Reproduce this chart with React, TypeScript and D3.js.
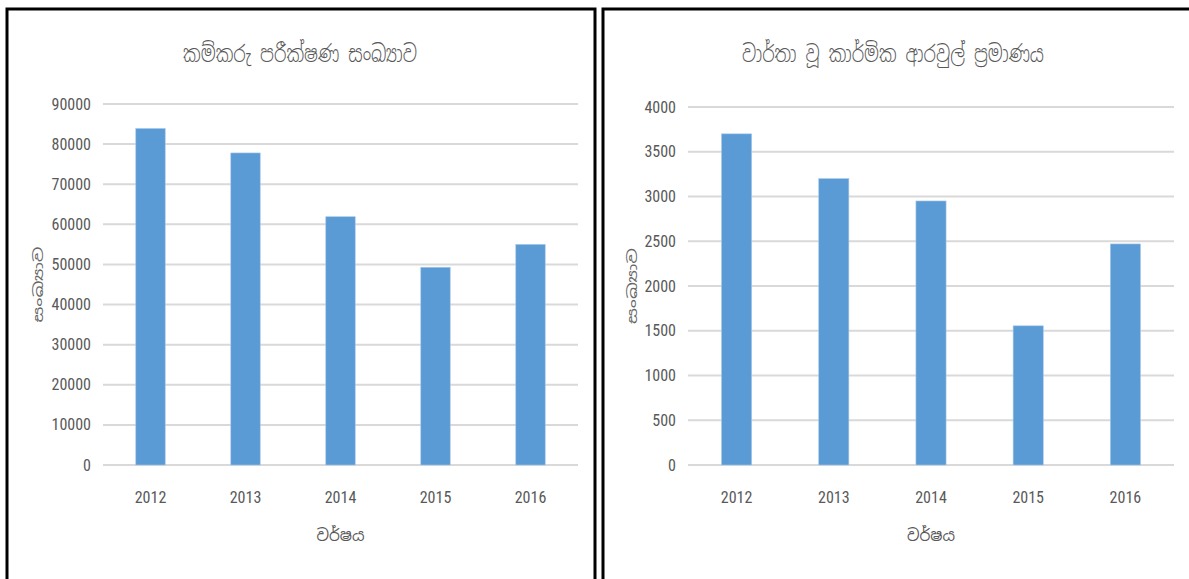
import React from "react";
import * as d3 from "d3";

// two Excel-style column charts, side by side
const years = ["2012", "2013", "2014", "2015", "2016"];
const inspections = [83900, 77800, 61900, 49300, 55000];
const disputes = [3700, 3200, 2950, 1555, 2470];
const inspectionTicks = [0, 10000, 20000, 30000, 40000, 50000, 60000, 70000, 80000, 90000];
const disputeTicks = [0, 500, 1000, 1500, 2000, 2500, 3000, 3500, 4000];

const titleLeft = "කම්කරු පරීක්ෂණ සංඛ්‍යාව";
const titleRight = "වාර්තා වූ කාර්මික ආරවුල් ප්‍රමාණය";
const xTitle = "වර්ෂය";
const yTitle = "සංඛ්‍යාව";

const numFont = "'Liberation Sans Narrow', 'Arial Narrow', 'Roboto Condensed', 'Liberation Sans', sans-serif";
const sinFont = "'Noto Sans Sinhala', 'Iskoola Pota', 'Noto Sans', sans-serif";
const textGrey = "#595959";
const barBlue = "#5b9bd5";

type PanelProps = {
  values: number[];
  ticks: number[];
  title: string;
  titleWidth: number;
  plotLeft: number;
  plotRight: number;
  plotTop: number;
  plotBottom: number;
  titleX: number;
  yTitleX: number;
};

const Panel: React.FC<PanelProps> = ({ values, ticks, title, titleWidth, plotLeft, plotRight, plotTop, plotBottom, titleX, yTitleX }) => {
  const x = d3.scaleBand<string>().domain(years).range([plotLeft, plotRight]).paddingInner(0.69).paddingOuter(0.345);
  const y = d3.scaleLinear().domain([0, d3.max(ticks) as number]).range([plotBottom, plotTop]);
  const midY = (plotTop + plotBottom) / 2;
  const midX = (plotLeft + plotRight) / 2;

  return (
    <g>
      <text x={titleX} y={56} textAnchor="middle" dominantBaseline="middle" fontSize={23} fill={textGrey}
        fontWeight={300} textLength={titleWidth} lengthAdjust="spacingAndGlyphs" fontFamily={sinFont}>{title}</text>

      {ticks.map((t) => (
        <g key={t}>
          <line x1={plotLeft} x2={plotRight} y1={y(t)} y2={y(t)} stroke="#d9d9d9" strokeWidth={2} />
          <text x={plotLeft - 12} y={y(t)} dy="0.35em" textAnchor="end" fontSize={16} fill={textGrey} fontFamily={numFont}>{t}</text>
        </g>
      ))}

      {values.map((v, i) => (
        <rect key={years[i]} x={x(years[i])} y={y(v)} width={x.bandwidth()} height={y(0) - y(v)}
          fill={barBlue} stroke="#a9c8ea" strokeWidth={0.6} />
      ))}

      {years.map((yr) => (
        <text key={yr} x={(x(yr) as number) + x.bandwidth() / 2} y={497} dy="0.35em" textAnchor="middle"
          fontSize={16} fill={textGrey} fontFamily={numFont}>{yr}</text>
      ))}

      <text x={midX} y={535} dy="0.35em" textAnchor="middle" fontSize={16} fill={textGrey}
        textLength={48} lengthAdjust="spacingAndGlyphs" fontFamily={sinFont}>{xTitle}</text>
      <text transform={`translate(${yTitleX},${midY}) rotate(-90)`} textAnchor="middle" dy="0.35em" fontSize={13}
        textLength={76} lengthAdjust="spacingAndGlyphs" fill="#666" fontFamily={sinFont}>{yTitle}</text>
    </g>
  );
};

export default function App() {
  return (
    <>
      <style>{`body{margin:0;background:#fff}`}</style>
      <svg width={1189} height={579} style={{ display: "block" }}>
        <rect width={1189} height={579} fill="#fff" />
        {/* panel frames, open at the bottom edge */}
        <path d="M7,600 V9 H595 V600" fill="none" stroke="#000" strokeWidth={3} />
        <path d="M603,600 V9 H1189" fill="none" stroke="#000" strokeWidth={3} />

        <Panel values={inspections} ticks={inspectionTicks} title={titleLeft} titleWidth={234}
          plotLeft={103} plotRight={578} plotTop={104} plotBottom={465} titleX={300} yTitleX={38} />
        <Panel values={disputes} ticks={disputeTicks} title={titleRight} titleWidth={302}
          plotLeft={688} plotRight={1174} plotTop={107} plotBottom={465} titleX={893} yTitleX={632} />
      </svg>
    </>
  );
}
